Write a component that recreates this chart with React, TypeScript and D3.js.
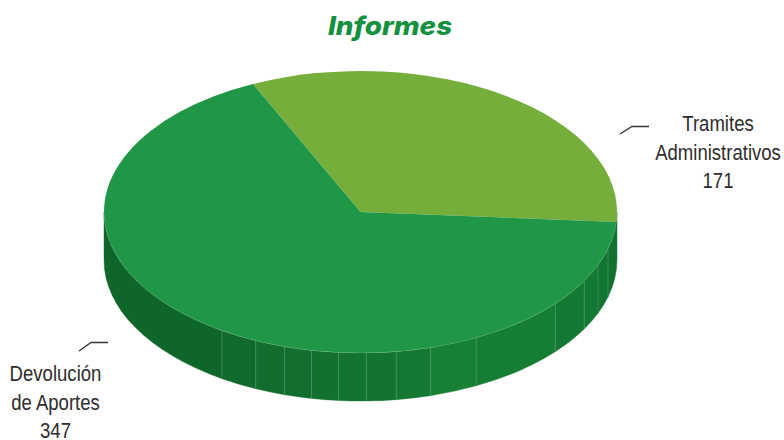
import React from "react";
import * as d3 from "d3";

const title = "Informes";
const categories = ["Tramites Administrativos", "Devolución de Aportes"];
const labelLines = [
  ["Tramites", "Administrativos", "171"],
  ["Devolución", "de Aportes", "347"],
];
const values = [171, 347];
const colors = ["#76ae3c", "#209746"];

// facets on the rim of the pie, degrees clockwise from the top
const facetAngles = [212.7, 204.1, 197.2, 191, 184.9, 178.7, 172, 164.2, 153.2, 130.6, 119.3, 112.2, 105.2];
const facetColors = ["#0f662b", "#116a2d", "#126d2e", "#136f2f", "#137130", "#137331", "#137431", "#147732", "#178035", "#167d34", "#147a33", "#137832", "#127531", "#117230"];

const width = 784;
const height = 440;
const cx = 360.5;
const cy = 212;
const rx = 256.5;
const ry = 141;
const depth = 48;
const startDeg = -24.8;

const rad = (d: number) => (d * Math.PI) / 180;
const px = (a: number) => cx + rx * Math.sin(rad(a));
const py = (a: number) => cy - ry * Math.cos(rad(a));

const pie = d3
  .pie<number>()
  .sort(null)
  .startAngle(rad(startDeg))
  .endAngle(rad(startDeg + 360));

const arc = d3.arc<any>().innerRadius(0).outerRadius(rx);

// wall section between two angles of the lower half, a0 > a1
const wall = (a0: number, a1: number) =>
  `M${px(a0)},${py(a0)}` +
  `A${rx},${ry} 0 0 0 ${px(a1)},${py(a1)}` +
  `L${px(a1)},${py(a1) + depth}` +
  `A${rx},${ry} 0 0 1 ${px(a0)},${py(a0) + depth}Z`;

const Leader = ({ points }: { points: [number, number][] }) => (
  <path d={d3.line()(points) ?? ""} fill="none" stroke="#333333" strokeWidth={1.3} />
);

const Label = ({ lines, x, y }: { lines: string[]; x: number; y: number }) => (
  <g fontFamily="'Liberation Sans', sans-serif" fontSize={22.5} fill="#2f2c2d" textAnchor="middle">
    {lines.map((t, i) => (
      <text key={t} transform={`translate(${x},${y + i * 28.7}) scale(0.825,1)`}>
        {t}
      </text>
    ))}
  </g>
);

export default function App() {
  const slices = pie(values);
  const edges = [270, ...facetAngles, 90];

  return (
    <svg width={width} height={height} style={{ position: "absolute", left: 0, top: 0 }}>
      <text transform="translate(390,34.7) scale(1.07,1)" textAnchor="middle" fontFamily="Inter, 'Open Sans', sans-serif" fontWeight={800} fontStyle="italic" fontSize={26} fill="#14913f">
        {title}
      </text>

      {facetColors.map((c, i) => (
        <path key={i} d={wall(edges[i], edges[i + 1])} fill={c} stroke={c} strokeWidth={0.4} />
      ))}
      {facetAngles.map((a) => (
        <line key={a} x1={px(a)} x2={px(a)} y1={py(a)} y2={py(a) + depth} stroke="#5fa574" strokeWidth={0.5} />
      ))}

      <g transform={`translate(${cx},${cy}) scale(1,${ry / rx})`}>
        {slices.map((s, i) => (
          <path key={categories[i]} d={arc(s) ?? ""} fill={colors[i]} />
        ))}
      </g>
      <path d={`M${px(270)},${py(270)}A${rx},${ry} 0 0 0 ${px(90)},${py(90)}`} fill="none" stroke="#8cc79e" strokeWidth={0.5} strokeOpacity={0.45} />

      <Leader points={[[620, 134], [632, 126.5], [649, 126.5]]} />
      <Leader points={[[79, 351], [91, 342.5], [108, 342.5]]} />
      <Label lines={labelLines[0]} x={718} y={131} />
      <Label lines={labelLines[1]} x={55.5} y={381} />
    </svg>
  );
}
